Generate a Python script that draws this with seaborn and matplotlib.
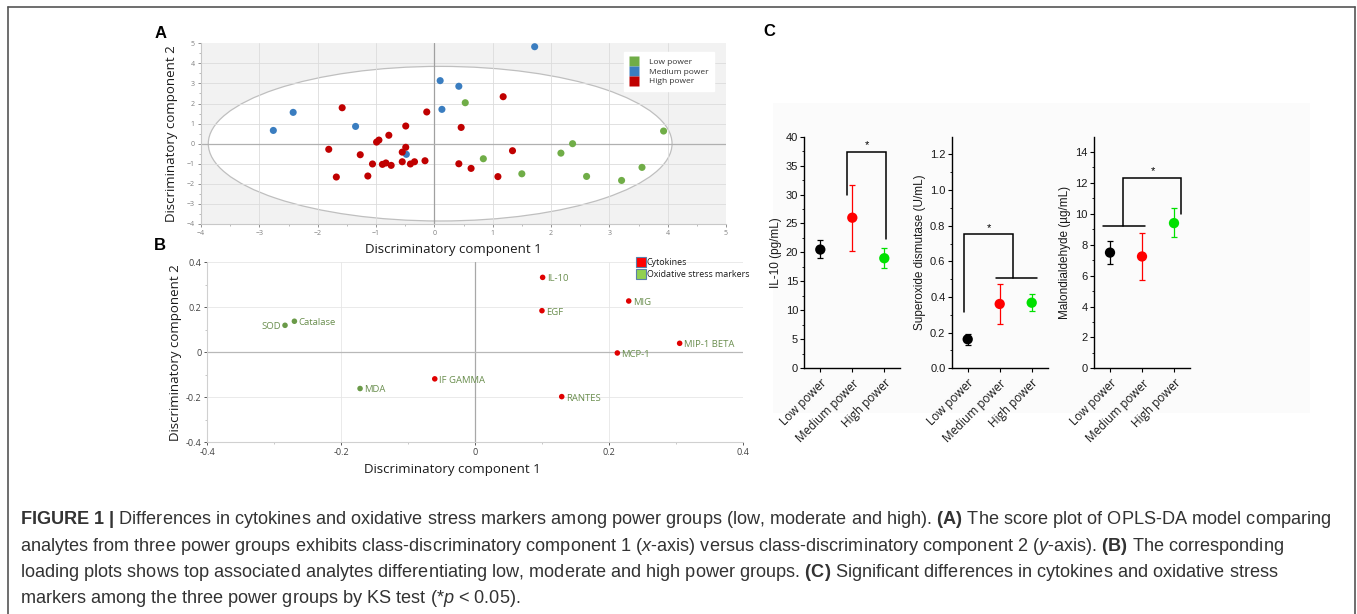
import numpy as np
import pandas as pd
import matplotlib
matplotlib.use("Agg")
import matplotlib.pyplot as plt
from matplotlib.patches import Ellipse, Rectangle
from matplotlib.lines import Line2D
import seaborn as sns

sns.set_theme(style="white")
plt.rcParams['font.family'] = ['Open Sans', 'DejaVu Sans']
plt.rcParams['mathtext.fontset'] = 'custom'
plt.rcParams['mathtext.rm'] = 'Liberation Sans'
plt.rcParams['mathtext.it'] = 'Liberation Sans:italic'
plt.rcParams['mathtext.bf'] = 'Liberation Sans:bold'

# ---------------- Panel A data (score plot) ----------------
low_x = [0.53, 0.84, 1.50, 2.17, 2.37, 2.61, 3.21, 3.56, 3.93]
low_y = [2.04, -0.75, -1.50, -0.47, 0.00, -1.63, -1.83, -1.18, 0.63]
med_x = [-2.76, -2.42, -1.35, -0.48, 0.10, 0.13, 0.42, 1.72]
med_y = [0.66, 1.56, 0.86, -0.53, 3.14, 1.71, 2.86, 4.83]
high_x = [-1.81, -1.68, -1.58, -1.27, -1.14, -1.06, -0.99, -0.95, -0.89, -0.83,
          -0.78, -0.74, -0.55, -0.55, -0.49, -0.49, -0.41, -0.34, -0.16, -0.13,
          0.42, 0.46, 0.63, 1.09, 1.18, 1.34]
high_y = [-0.28, -1.66, 1.79, -0.55, -1.61, -1.01, 0.08, 0.18, -1.03, -0.96,
          0.42, -1.08, -0.90, -0.42, -0.18, 0.88, -1.01, -0.90, -0.85, 1.58,
          -1.00, 0.81, -1.23, -1.64, 2.34, -0.35]
groups_A = ["Low power", "Medium power", "High power"]
colors_A = ["#70AD47", "#3A7DC0", "#C00000"]
ellipse_center = (0.1, 0.0)
ellipse_size = (7.95, 7.7)

# ---------------- Panel B data (loading plot) ----------------
analytes = ["SOD", "Catalase", "MDA", "IF GAMMA", "IL-10", "EGF", "MIG",
            "MIP-1 BETA", "MCP-1", "RANTES"]
load_x = [-0.284, -0.270, -0.172, -0.0605, 0.1005, 0.0995, 0.229, 0.305, 0.212, 0.129]
load_y = [0.120, 0.138, -0.161, -0.118, 0.333, 0.185, 0.228, 0.040, -0.003, -0.197]
analyte_type = ["Oxidative stress markers"] * 3 + ["Cytokines"] * 7
colors_B_pts = {"Cytokines": "#E00000", "Oxidative stress markers": "#6A9A48"}
colors_B_leg = {"Cytokines": "#FF0000", "Oxidative stress markers": "#92D050"}

# ---------------- Panel C data ----------------
power_groups = ["Low power", "Medium power", "High power"]
colors_C = ["#000000", "#FF0000", "#00E000"]
il10_mean = [20.5, 26.0, 19.0]
il10_lo = [19.1, 20.3, 17.3]
il10_hi = [22.1, 31.7, 20.7]
sod_mean = [0.163, 0.361, 0.368]
sod_lo = [0.130, 0.250, 0.320]
sod_hi = [0.195, 0.471, 0.415]
mda_mean = [7.49, 7.24, 9.40]
mda_lo = [6.74, 5.74, 8.47]
mda_hi = [8.27, 8.75, 10.39]

W, H = 1357, 614
fig = plt.figure(figsize=(W / 100, H / 100), dpi=100)


def box(l, t, r, b):
    return [l / W, 1 - b / H, (r - l) / W, (b - t) / H]


# ================= Panel A =================
axA = fig.add_axes(box(201, 43.3, 726, 224))
axA.set_facecolor("#F2F2F2")
axA.add_patch(Ellipse(ellipse_center, ellipse_size[0], ellipse_size[1],
                      facecolor="white", edgecolor="#BFBFBF", lw=0.9, zorder=0.8))
for v in range(-3, 5):
    if v != 0:
        axA.axvline(v, color="#DCDCDC", lw=0.6, zorder=1)
for v in range(-3, 5):
    if v != 0:
        axA.axhline(v, color="#DCDCDC", lw=0.6, zorder=1)
axA.axvline(0, color="#A0A0A0", lw=0.9, zorder=1.2)
axA.axhline(0, color="#B0B0B0", lw=0.9, zorder=1.2)

dfA = pd.DataFrame({
    "x": low_x + med_x + high_x,
    "y": low_y + med_y + high_y,
    "group": [groups_A[0]] * len(low_x) + [groups_A[1]] * len(med_x) + [groups_A[2]] * len(high_x),
})
sns.scatterplot(data=dfA, x="x", y="y", hue="group", hue_order=groups_A,
                palette=colors_A, s=26, edgecolor="none", legend=False, ax=axA, zorder=3)
axA.set_xlim(-4, 5)
axA.set_ylim(-4, 5)
axA.set_xticks(range(-4, 6))
axA.set_yticks(range(-4, 6))
axA.set_xticks(np.arange(-3.5, 5, 1), minor=True)
axA.set_yticks(np.arange(-3.5, 5, 1), minor=True)
axA.tick_params(axis="both", which="major", labelsize=5, colors="#808080",
                length=2.5, width=0.6, direction="out", pad=2)
axA.tick_params(axis="both", which="minor", length=1.5, width=0.5, colors="#A0A0A0")
axA.tick_params(bottom=True, left=True, which="both")
for s in ["top", "right"]:
    axA.spines[s].set_visible(False)
for s in ["left", "bottom"]:
    axA.spines[s].set_color("#C8C8C8")
    axA.spines[s].set_linewidth(0.8)
axA.set_xlabel("Discriminatory component 1", fontsize=9.5, color="#1a1a1a")
axA.set_ylabel("Discriminatory component 2", fontsize=9.5, color="#1a1a1a")
axA.xaxis.set_label_coords((453 - 201) / 525, -(243 - 224) / 180.7, transform=axA.transAxes)
axA.yaxis.set_label_coords(-(201 - 178) / 525, 0.5, transform=axA.transAxes)
legA = [Line2D([0], [0], marker="s", linestyle="none", markersize=7,
               markerfacecolor=c, markeredgecolor="none", label=g)
        for g, c in zip(groups_A, colors_A)]
lg = axA.legend(handles=legA, loc="upper right", bbox_to_anchor=(0.985, 0.975),
                fontsize=6, frameon=True, fancybox=False, handletextpad=1.2,
                borderpad=0.7, labelspacing=0.25, handlelength=1.0)
lg.get_frame().set_edgecolor("white")
lg.get_frame().set_facecolor("white")
lg.get_frame().set_alpha(1)
for t in lg.get_texts():
    t.set_color("#333333")

# ================= Panel B =================
axB = fig.add_axes(box(207.3, 262.3, 743.3, 442.3))
axB.set_facecolor("white")
for v in [-0.4, -0.2, 0.2, 0.4]:
    axB.axvline(v, color="#E6E6E6", lw=0.6, zorder=1)
for v in [-0.2, 0.2, 0.4]:
    axB.axhline(v, color="#E6E6E6", lw=0.6, zorder=1)
axB.axvline(0, color="#A8A8A8", lw=0.9, zorder=1.2)
axB.axhline(0, color="#B8B8B8", lw=0.9, zorder=1.2)
dfB = pd.DataFrame({"x": load_x, "y": load_y, "type": analyte_type, "name": analytes})
sns.scatterplot(data=dfB, x="x", y="y", hue="type", palette=colors_B_pts,
                s=16, edgecolor="none", legend=False, ax=axB, zorder=3)
for _, r in dfB.iterrows():
    if r["name"] == "SOD":
        axB.annotate(r["name"], (r["x"], r["y"]), xytext=(-3, -1), textcoords="offset points",
                     ha="right", va="center", fontsize=6.8, color="#6A8E4E")
    else:
        axB.annotate(r["name"], (r["x"], r["y"]), xytext=(3, -1), textcoords="offset points",
                     ha="left", va="center", fontsize=6.8, color="#6A8E4E")
axB.set_xlim(-0.4, 0.4)
axB.set_ylim(-0.4, 0.4)
axB.set_xticks([-0.4, -0.2, 0, 0.2, 0.4])
axB.set_xticklabels(["-0.4", "-0.2", "0", "0.2", "0.4"])
axB.set_yticks([-0.4, -0.2, 0, 0.2, 0.4])
axB.set_yticklabels(["-0.4", "-0.2", "0", "0.2", "0.4"])
axB.set_xticks([-0.3, -0.1, 0.1, 0.3], minor=True)
axB.set_yticks([-0.3, -0.1, 0.1, 0.3], minor=True)
axB.tick_params(axis="both", which="major", labelsize=6.5, colors="#404040",
                length=2.5, width=0.6, pad=1.5)
axB.tick_params(axis="both", which="minor", length=1.5, width=0.5, colors="#B0B0B0")
axB.tick_params(bottom=True, left=True, which="both")
for s in ["top", "right"]:
    axB.spines[s].set_visible(False)
for s in ["left", "bottom"]:
    axB.spines[s].set_color("#D0D0D0")
    axB.spines[s].set_linewidth(0.8)
axB.set_xlabel("Discriminatory component 1", fontsize=9.5, color="#1a1a1a")
axB.set_ylabel("Discriminatory component 2", fontsize=9.5, color="#1a1a1a")
axB.xaxis.set_label_coords((452 - 207.3) / 536, -(463 - 442.3) / 180, transform=axB.transAxes)
axB.yaxis.set_label_coords(-(207.3 - 182) / 536, 0.5, transform=axB.transAxes)
legB = [Line2D([0], [0], marker="s", linestyle="none", markersize=7.5,
               markerfacecolor=colors_B_leg[k], markeredgecolor="#5B7FA8",
               markeredgewidth=0.8, label=k) for k in ["Cytokines", "Oxidative stress markers"]]
lgB = axB.legend(handles=legB, loc="upper left", bbox_to_anchor=(0.795, 1.045),
                 fontsize=6.4, frameon=False, handletextpad=0.3, labelspacing=0.35,
                 handlelength=0.8, borderaxespad=0)
for t in lgB.get_texts():
    t.set_color("#1a1a1a")

# ================= Panel C =================
fig.patches.append(Rectangle((773 / W, 1 - 413 / H), (1310 - 773) / W, (413 - 103) / H,
                             transform=fig.transFigure, facecolor="#FBFBFB",
                             edgecolor="none", zorder=-5))


def c_panel(left, mean, lo, hi, ylim, major, minor, ylabel, fmt, brackets, star):
    ax = fig.add_axes(box(left, 136.6, left + 96, 368.3))
    ax.set_facecolor("none")
    xs = np.arange(len(power_groups))
    df = pd.DataFrame({"x": xs, "y": mean, "g": power_groups})
    for i in range(len(xs)):
        ax.errorbar(xs[i], mean[i], yerr=[[mean[i] - lo[i]], [hi[i] - mean[i]]],
                    fmt="none", ecolor=colors_C[i], elinewidth=0.9, capsize=2,
                    capthick=0.9, zorder=2)
    sns.scatterplot(data=df, x="x", y="y", hue="g", palette=colors_C, s=55,
                    edgecolor="none", legend=False, ax=ax, zorder=3)
    for bx, by in brackets:
        ax.plot(bx, by, color="black", lw=1.1, solid_joinstyle="miter", zorder=4)
    ax.text(star[0], star[1], "*", ha="center", va="center", fontsize=8,
            family="Liberation Sans", color="black")
    ax.set_xlim(-0.5, 2.5)
    ax.set_ylim(*ylim)
    ax.set_xticks(xs)
    ax.set_xticklabels(power_groups, rotation=45, ha="right", rotation_mode="anchor",
                       fontsize=8.5, color="#1a1a1a")
    ax.set_yticks(major)
    ax.set_yticklabels([fmt.format(v) for v in major], family="Liberation Sans",
                       fontsize=8, color="#1a1a1a")
    ax.set_yticks(minor, minor=True)
    ax.tick_params(axis="both", which="major", length=3, width=0.8, color="black",
                   direction="out", pad=1.5, bottom=True, left=True)
    ax.tick_params(axis="y", which="minor", length=1.8, width=0.6, color="black",
                   left=True)
    ax.tick_params(axis="x", pad=3)
    for s in ["top", "right"]:
        ax.spines[s].set_visible(False)
    for s in ["left", "bottom"]:
        ax.spines[s].set_color("black")
        ax.spines[s].set_linewidth(1.0)
    ax.set_ylabel(ylabel, fontsize=8.5, family="Liberation Sans", color="#1a1a1a", labelpad=3)
    ax.set_xlabel("")
    return ax


c_panel(804.3, il10_mean, il10_lo, il10_hi, (0, 40), np.arange(0, 41, 5),
        np.arange(2.5, 40, 5), "IL-10 (pg/mL)", "{:.0f}",
        [([0.84, 0.84, 2.05, 2.05], [30.0, 37.3, 37.3, 22.4])], (1.45, 38.6))
c_panel(951.7, sod_mean, sod_lo, sod_hi, (0, 1.3), np.arange(0, 1.21, 0.2),
        np.arange(0.1, 1.3, 0.2), "Superoxide dismutase (U/mL)", "{:.1f}",
        [([-0.11, -0.11, 1.43, 1.43], [0.314, 0.755, 0.755, 0.505]),
         ([0.88, 2.15], [0.505, 0.505])], (0.67, 0.785))
c_panel(1094, mda_mean, mda_lo, mda_hi, (0, 15), np.arange(0, 15, 2),
        np.arange(1, 15, 2), "Malondialdehyde (µg/mL)", "{:.0f}",
        [([-0.21, 1.10], [9.24, 9.24]),
         ([0.42, 0.42, 2.21, 2.21], [9.24, 12.33, 12.33, 10.0])], (1.33, 12.75))

# ================= Panel letters =================
for lab, (px, py) in {"A": (161, 33), "B": (160, 245), "C": (769, 32)}.items():
    fig.text(px / W, 1 - py / H, lab, fontsize=12, fontweight="bold",
             family="Liberation Sans", ha="center", va="center", color="black")

# ================= Border =================
for xs_, ys_ in [([8, 8], [616, 7]), ([8, 1355], [7, 7]), ([1355, 1355], [7, 616])]:
    fig.add_artist(Line2D([x / W for x in xs_], [1 - y / H for y in ys_],
                          color="#555555", lw=1.2, transform=fig.transFigure))

# ================= Caption =================
cap_lines = [
    r"$\mathbf{FIGURE\ 1\ |}$ Differences in cytokines and oxidative stress markers among power groups (low, moderate and high). $\mathbf{(A)}$ The score plot of OPLS-DA model comparing",
    r"analytes from three power groups exhibits class-discriminatory component 1 ($\it{x}$-axis) versus class-discriminatory component 2 ($\it{y}$-axis). $\mathbf{(B)}$ The corresponding",
    r"loading plots shows top associated analytes differentiating low, moderate and high power groups. $\mathbf{(C)}$ Significant differences in cytokines and oxidative stress",
    r"markers among the three power groups by KS test (*$\it{p}$ < 0.05).",
]
for i, line in enumerate(cap_lines):
    fig.text(20 / W, 1 - (520 + 26.2 * i) / H, line, fontsize=13.1,
             family="Liberation Sans", color="#333333", ha="left", va="center")

fig.savefig("out.png", dpi=100, facecolor="white")
